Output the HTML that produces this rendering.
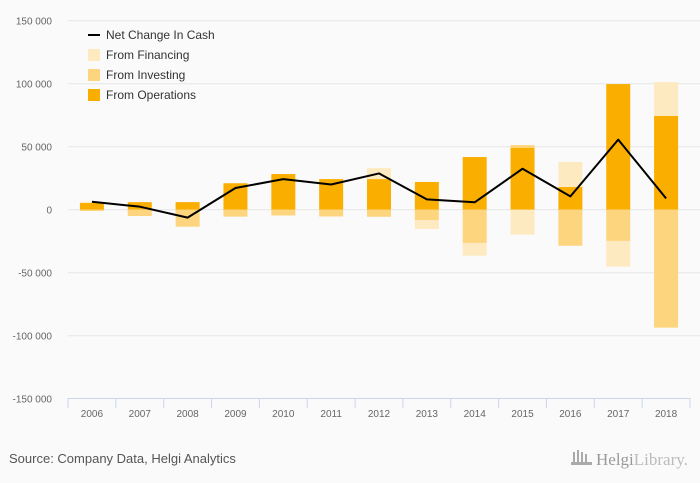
<!DOCTYPE html>
<html><head><meta charset="utf-8"><style>
html,body{margin:0;padding:0;background:#fafafa;}
svg{display:block;font-family:"Liberation Sans",sans-serif;}
</style></head><body>
<svg id="chart" width="700" height="483" viewBox="0 0 700 483">
<rect width="700" height="483" fill="#fafafa"/>
<g id="grid"></g>
<g id="ylabels"></g>
<g id="bars"></g>
<g id="line"></g>
<g id="xaxis"></g>
<g font-size="12" fill="#333">
<g><line x1="88" y1="35" x2="100" y2="35" stroke="#000" stroke-width="2"/><text x="106" y="39">Net Change In Cash</text></g>
<g><rect x="88" y="49" width="12" height="12" fill="#feeac0"/><text x="106" y="59">From Financing</text></g>
<g><rect x="88" y="69" width="12" height="12" fill="#fdd57e"/><text x="106" y="79">From Investing</text></g>
<g><rect x="88" y="89" width="12" height="12" fill="#f9ae00"/><text x="106" y="99">From Operations</text></g>
</g>
<text x="9" y="463" font-size="13" fill="#555">Source: Company Data, Helgi Analytics</text>
<g fill="#aaa">
<rect x="573" y="452" width="2" height="11"/><rect x="577" y="450" width="2" height="13"/><rect x="581" y="452" width="2" height="11"/><rect x="585" y="454" width="2" height="9"/>
<rect x="571" y="462" width="21" height="3"/>
<text x="596" y="465" font-size="17" font-family="Liberation Serif,serif" fill="#999">Helgi<tspan fill="#bbb">Library.</tspan></text>
</g>
</svg>
<script>
const years=["2006","2007","2008","2009","2010","2011","2012","2013","2014","2015","2016","2017","2018"];
const operations=[5300,6000,6000,21000,28300,24300,24300,22000,41800,49200,18000,99700,74400];
const investing=[-1000,-5000,-13500,-5500,-4600,-5400,-5600,-8200,-26400,2100,-28600,-24800,-93600];
const financing=[1000,0,0,0,0,0,8700,-7100,-10100,-19800,19900,-20400,26900];
const netChange=[6300,2400,-6300,17200,24300,20000,28800,8200,5900,32500,10600,55600,9000];
const yTicks=[150000,100000,50000,0,-50000,-100000,-150000];
const yTickLabels=["150 000","100 000","50 000","0","-50 000","-100 000","-150 000"];

const NS="http://www.w3.org/2000/svg";
const X0=68,X1=690,Y0=209.7,PX=63/50000;
const step=(X1-X0)/years.length;
function y(v){return Y0-v*PX;}
function xc(i){return X0+step*(i+0.5);}
function mk(tag,attrs,parent){const e=document.createElementNS(NS,tag);for(const k in attrs)e.setAttribute(k,attrs[k]);parent.appendChild(e);return e;}
const grid=document.getElementById('grid'),yl=document.getElementById('ylabels'),bars=document.getElementById('bars'),xa=document.getElementById('xaxis'),ln=document.getElementById('line');
yTicks.forEach((t,i)=>{
 if(t!==-150000){const g=mk('line',{x1:X0,x2:700,y1:y(t),y2:y(t),stroke:'#e6e6e6'},grid);
 
 }
 const tx=mk('text',{x:52,y:y(t)+4,'text-anchor':'end','font-size':'10',fill:'#666'},yl);
 tx.textContent=yTickLabels[i];
 
 
});
const colors={ops:'#f9ae00',inv:'#fdd57e',fin:'#feeac0'};
const BW=24;
years.forEach((yr,i)=>{
 let pos=0,neg=0;
 [['ops',operations[i]],['inv',investing[i]],['fin',financing[i]]].forEach(([k,v])=>{
  if(!v)return;
  let a,b;
  if(v>0){a=pos;b=pos+v;pos=b;}else{a=neg;b=neg+v;neg=b;}
  const r=mk('rect',{x:xc(i)-BW/2,width:BW,y:Math.min(y(a),y(b)),height:Math.abs(y(a)-y(b)),fill:colors[k]},bars);
  
  
 });
 const t=mk('text',{x:xc(i),y:417,'text-anchor':'middle','font-size':'10',fill:'#666'},xa);
 t.textContent=yr;
 
 
});
const ax=mk('line',{x1:X0,x2:X1,y1:398.5,y2:398.5,stroke:'#ccd6eb'},xa);


for(let i=0;i<=years.length;i++){
 const tk=mk('line',{x1:X0+step*i,x2:X0+step*i,y1:398,y2:408,stroke:'#ccd6eb'},xa);
 
 
}
const p=mk('polyline',{points:netChange.map((v,i)=>xc(i)+','+y(v)).join(' '),fill:'none',stroke:'#000','stroke-width':'2','stroke-linejoin':'round'},ln);


</script>
</body></html>
